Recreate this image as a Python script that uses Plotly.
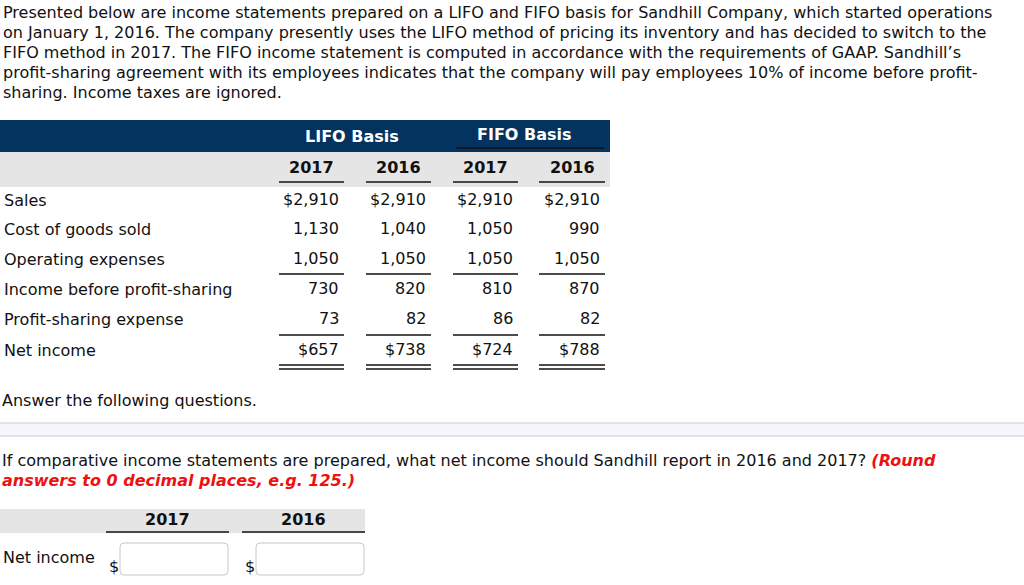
import plotly.graph_objects as go

# ---------------- data ----------------
intro_lines = [
    "Presented below are income statements prepared on a LIFO and FIFO basis for Sandhill Company, which started operations",
    "on January 1, 2016. The company presently uses the LIFO method of pricing its inventory and has decided to switch to the",
    "FIFO method in 2017. The FIFO income statement is computed in accordance with the requirements of GAAP. Sandhill\u2019s",
    "profit-sharing agreement with its employees indicates that the company will pay employees 10% of income before profit-",
    "sharing. Income taxes are ignored.",
]
basis_labels = ["LIFO Basis", "FIFO Basis"]
year_labels = ["2017", "2016", "2017", "2016"]
row_labels = ["Sales", "Cost of goods sold", "Operating expenses",
              "Income before profit-sharing", "Profit-sharing expense", "Net income"]
lifo_2017 = [2910, 1130, 1050, 730, 73, 657]
lifo_2016 = [2910, 1040, 1050, 820, 82, 738]
fifo_2017 = [2910, 1050, 1050, 810, 86, 724]
fifo_2016 = [2910, 990, 1050, 870, 82, 788]
dollar_rows = [0, 5]
answer_prompt = "Answer the following questions."
question_text = "If comparative income statements are prepared, what net income should Sandhill report in 2016 and 2017? "
hint_line1 = "(Round"
hint_line2 = "answers to 0 decimal places, e.g. 125.)"
answer_years = ["2017", "2016"]
answer_row = "Net income"

FONT = "DejaVu Sans"
FS = 16
DARK = "#04335f"
GRAY = "#e5e5e5"
TXT = "#111111"

ann = []
shapes = []

def text(x, y, s, anchor="left", size=FS, color=TXT, bold=False):
    if bold:
        s = "<b>" + s + "</b>"
    ann.append(dict(x=x, y=y, xref="x", yref="y", text=s, showarrow=False,
                    xanchor=anchor, yanchor="middle",
                    font=dict(family=FONT, size=size, color=color)))

def hline(x0, x1, y, color="#111111", w=1.5):
    shapes.append(dict(type="line", xref="x", yref="y", x0=x0, x1=x1, y0=y, y1=y,
                       line=dict(color=color, width=w)))

def rect(x0, y0, x1, y1, fill, lc=None, lw=0):
    shapes.append(dict(type="rect", xref="x", yref="y", x0=x0, x1=x1, y0=y0, y1=y1,
                       fillcolor=fill, line=dict(color=lc or fill, width=lw), layer="below"))

# intro paragraph
for i, line in enumerate(intro_lines):
    text(1, 12 + i * 20, line)

# table header bands
rect(0, 120, 610, 152, DARK)
rect(0, 152, 610, 187, GRAY)
text(352, 136, basis_labels[0], "center", color="white", bold=True)
text(524, 134, basis_labels[1], "center", color="white", bold=True)
hline(456, 604, 148, "#111111", 1.5)

col_l = [279, 366, 453, 539]
col_r = [344, 431, 518, 605]
for j, y in enumerate(year_labels):
    text((col_l[j] + col_r[j]) / 2, 167, y, "center", bold=True)
    hline(col_l[j], col_r[j], 182)

cols = [lifo_2017, lifo_2016, fifo_2017, fifo_2016]
row_y = [200, 229, 259, 289, 319, 350]
for i, lab in enumerate(row_labels):
    text(2, row_y[i], lab)
    for j, c in enumerate(cols):
        v = f"{c[i]:,}"
        if i in dollar_rows:
            v = "$" + v
        text(col_r[j] - 3, row_y[i] - 1, v, "right")
for j in range(4):
    hline(col_l[j], col_r[j], 274)
    hline(col_l[j], col_r[j], 335)
    hline(col_l[j], col_r[j], 365)
    hline(col_l[j], col_r[j], 369)

text(0, 400, answer_prompt)

# separator band
rect(-2, 423, 1026, 436, "#f5f7fa", "#c9cdd5", 1.2)

text(0, 460, question_text + f"<b><i><span style='color:#ee1111'>{hint_line1}</span></i></b>")
text(0, 480, f"<b><i>{hint_line2}</i></b>", color="#ee1111")

# answer table
rect(0, 509, 365, 533, GRAY)
ax_l = [106, 242]
ax_r = [229, 365]
for j, y in enumerate(answer_years):
    text((ax_l[j] + ax_r[j]) / 2, 519, y, "center", bold=True)
    hline(ax_l[j], ax_r[j], 532, "#111111", 1.5)
text(1, 557, answer_row)
for j in range(2):
    text(ax_l[j] + 1, 566, "$")
    x0, x1, y0, y1, r = ax_l[j] + 14, ax_r[j] - 1, 543, 575, 4
    path = (f"M {x0+r},{y0} L {x1-r},{y0} Q {x1},{y0} {x1},{y0+r} L {x1},{y1-r} "
            f"Q {x1},{y1} {x1-r},{y1} L {x0+r},{y1} Q {x0},{y1} {x0},{y1-r} "
            f"L {x0},{y0+r} Q {x0},{y0} {x0+r},{y0} Z")
    shapes.append(dict(type="path", xref="x", yref="y", path=path,
                       fillcolor="white", line=dict(color="#c8c8c8", width=1)))

fig = go.Figure()
fig.update_layout(
    width=1024, height=585,
    margin=dict(l=0, r=0, t=0, b=0),
    paper_bgcolor="white", plot_bgcolor="white",
    xaxis=dict(range=[0, 1024], visible=False, fixedrange=True),
    yaxis=dict(range=[585, 0], visible=False, fixedrange=True),
    annotations=ann, shapes=shapes, showlegend=False,
)
fig.write_html("out.html", config={"displayModeBar": False},
               post_script="document.body.style.margin='0';document.body.style.overflow='hidden';")
